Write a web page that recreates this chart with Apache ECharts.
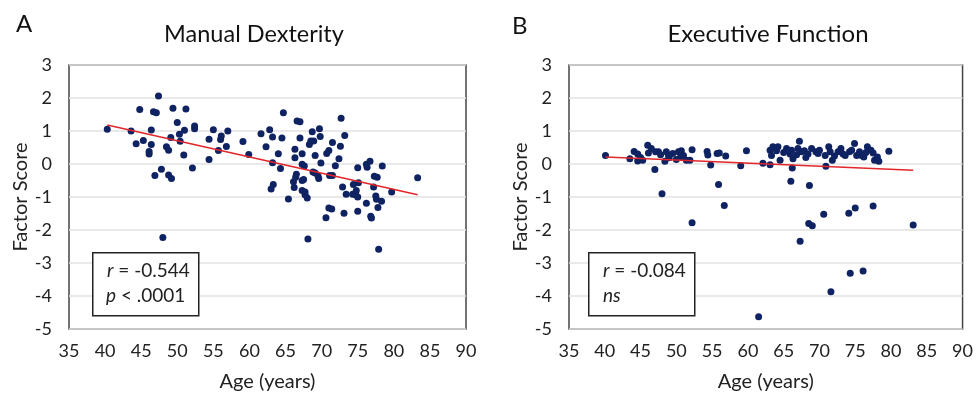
<!DOCTYPE html>
<html><head><meta charset="utf-8">
<script src="https://cdn.jsdelivr.net/npm/echarts@6/dist/echarts.min.js"></script>
<style>html,body{margin:0;padding:0;background:#fff}#c{width:976px;height:399px}</style>
</head><body><div id="c"></div>
<script>
// Panel A: Manual Dexterity (age, factor score)
const dexterityAge = [40.3,43.6,44.3,44.8,45.3,46.4,46.4,46.1,46.1,46.7,47.1,47.4,46.9,47.8,48.8,49.2,48.0,48.5,48.8,49.1,49.4,50.0,50.3,50.4,51.0,51.2,50.9,52.1,52.4,52.4,54.4,54.4,55.0,55.7,56.0,56.1,56.8,57.0,59.1,59.9,61.6,62.3,62.8,63.2,63.2,64.0,63.3,63.0,64.3,64.5,64.7,65.4,66.3,66.3,66.5,66.4,66.1,66.2,66.6,67.0,67.0,67.3,67.3,67.6,67.3,67.5,67.3,67.7,67.7,68.0,68.1,68.3,68.5,68.7,68.9,69.1,68.8,69.1,69.6,69.5,69.7,69.8,69.9,70.7,71.0,71.1,71.5,71.5,71.0,71.4,70.6,71.9,72.4,72.6,72.7,73.2,72.9,73.1,73.4,74.3,74.4,74.7,75.0,75.0,75.0,75.1,74.8,76.2,76.3,76.7,76.2,76.8,76.9,77.2,77.3,77.7,77.5,77.6,77.8,78.3,77.9,78.4,79.7,83.3];
const dexterityScore = [1.05,1.0,0.61,1.65,0.71,1.03,0.59,0.38,0.30,1.58,1.55,2.06,-0.35,-0.16,-0.33,-0.44,-2.23,0.52,0.42,0.80,1.69,1.26,0.90,0.69,1.02,1.67,0.27,-0.12,1.15,1.07,0.75,0.14,1.04,0.41,0.74,0.85,0.53,1.0,0.68,0.29,0.92,0.52,1.04,0.82,0.04,0.31,-0.62,-0.76,-0.14,0.79,1.55,-1.06,0.45,0.19,-0.31,-0.40,-0.54,-0.71,1.30,1.28,0.79,0.31,-0.01,-0.06,-0.50,-0.47,-0.80,-0.85,-0.93,-1.03,-2.27,0.59,0.70,0.98,0.70,0.26,-0.24,-0.27,-0.44,-0.36,1.07,0.83,0.03,0.32,0.41,-0.35,-0.35,0.65,-1.33,-1.36,-1.63,-0.05,0.16,0.54,1.39,0.86,-0.70,-1.49,-0.92,-0.92,-0.62,-0.93,-1.00,-0.11,-1.43,-0.57,-0.80,-0.01,-0.10,0.08,-1.19,-1.58,-1.64,-0.70,-0.37,-0.40,-0.97,-1.07,-1.32,-1.13,-2.58,-0.06,-0.85,-0.42];
const dexterityTrendAge = [40.3, 83.3];
const dexterityTrendScore = [1.18, -0.93];

// Panel B: Executive Function (age, factor score)
const executiveAge = [40.1,43.5,44.1,44.6,45.3,46.0,46.1,46.5,47.0,47.1,47.5,48.4,48.6,48.9,49.0,50.0,50.3,50.7,51.0,51.4,51.9,52.2,54.3,54.4,54.8,55.7,56.0,56.9,55.9,48.0,56.7,52.2,59.0,59.8,61.5,62.1,63.1,63.1,63.3,63.5,64.0,64.5,64.2,65.4,65.9,66.1,66.3,66.2,66.0,67.2,67.0,67.5,67.9,68.4,68.6,68.9,69.5,70.0,70.8,70.9,71.3,71.5,71.8,72.6,73.0,73.6,74.2,74.5,74.9,75.2,75.6,75.9,76.2,76.7,77.2,77.5,77.7,78.1,78.3,79.7,67.3,68.5,69.0,70.6,71.6,74.1,74.3,75.0,76.1,77.5,83.1,44.6,45.0,47.8,49.5,50.6,65.0,66.8,68.1,69.8,72.1,73.3,76.5];
const executiveScore = [0.26,0.16,0.38,0.09,0.11,0.57,0.33,0.47,-0.17,0.37,0.37,0.08,0.37,0.26,0.19,0.14,0.37,0.40,0.26,0.11,0.11,0.43,0.38,0.27,-0.03,0.32,0.33,0.24,-0.62,-0.90,-1.26,-1.78,-0.05,0.40,-4.63,0.02,-0.02,0.42,0.26,0.52,0.40,0.11,0.52,0.47,0.30,0.42,0.16,-0.12,-0.52,0.69,0.47,0.37,0.40,0.30,-0.65,0.47,0.37,0.42,0.26,-0.07,0.52,0.37,0.11,0.37,0.47,0.26,0.37,0.42,0.62,0.26,0.37,0.26,0.21,0.52,0.42,0.33,0.11,0.21,0.08,0.39,-2.34,-1.80,-1.87,-1.52,-3.87,-1.49,-3.31,-1.33,-3.24,-1.27,-1.85,0.30,0.20,0.28,0.32,0.22,0.35,0.28,0.20,0.32,0.24,0.30,0.35];
const executiveTrendAge = [40.1, 83.1];
const executiveTrendScore = [0.21, -0.19];

const xTicks = [35,40,45,50,55,60,65,70,75,80,85,90];
const yTicks = [-5,-4,-3,-2,-1,0,1,2,3];

const FONT = 'Lato';
const zip = (a,b) => a.map((v,i)=>[v,b[i]]);

const chart = echarts.init(document.getElementById('c'), null, {renderer:'canvas'});

function xAxis(gi){
  return {gridIndex:gi, type:'value', min:xTicks[0], max:xTicks[xTicks.length-1], interval:5,
    name:'Age (years)', nameLocation:'middle', nameGap:43,
    nameTextStyle:{fontFamily:FONT, fontSize:20, color:'#222'},
    axisLine:{show:false}, axisTick:{show:false}, splitLine:{show:false},
    axisLabel:{fontFamily:FONT, fontSize:18, color:'#222', margin:13}};
}
function yAxis(gi){
  return {gridIndex:gi, type:'value', min:yTicks[0], max:yTicks[yTicks.length-1], interval:1,
    name:'Factor Score', nameLocation:'middle', nameGap:33,
    nameTextStyle:{fontFamily:FONT, fontSize:20, color:'#222'},
    axisLine:{show:false}, axisTick:{show:false},
    splitLine:{show:true, lineStyle:{color:'#e2e2e2', width:1.5}},
    axisLabel:{fontFamily:FONT, fontSize:18, color:'#222', margin:17}};
}
const dot = {type:'scatter', symbolSize:7, itemStyle:{color:'#0f2362', opacity:1}, silent:true};
const trend = {type:'line', symbol:'none', lineStyle:{color:'#e3262a', width:1.6}, silent:true, z:3};
const txt = (x, y, text) => ({type:'text', left:x, top:y, z:11, style:{
  rich:{i:{fontFamily:FONT, fontStyle:'italic', fontSize:19, fill:'#222'}, n:{fontFamily:FONT, fontSize:19, fill:'#222'}},
  text:text, fontFamily:FONT, fontSize:19, fill:'#222'}});

chart.setOption({
  animation:false,
  title:[
    {text:'A', left:11, top:7, textStyle:{fontFamily:FONT, fontSize:24, fontWeight:'normal', color:'#111'}},
    {text:'Manual Dexterity', left:249, top:17, textAlign:'center', textStyle:{fontFamily:FONT, fontSize:23.5, fontWeight:'normal', color:'#111'}},
    {text:'B', left:507, top:9, textStyle:{fontFamily:FONT, fontSize:24, fontWeight:'normal', color:'#111'}},
    {text:'Executive Function', left:763, top:17, textAlign:'center', textStyle:{fontFamily:FONT, fontSize:24, fontWeight:'normal', color:'#111'}}
  ],
  grid:[
    {left:69, right:510, top:65, bottom:70, show:true, borderColor:'#444', borderWidth:1.5, backgroundColor:'#fff'},
    {left:569, right:10, top:65, bottom:70, show:true, borderColor:'#444', borderWidth:1.5, backgroundColor:'#fff'}
  ],
  xAxis:[xAxis(0), xAxis(1)],
  yAxis:[yAxis(0), yAxis(1)],
  series:[
    Object.assign({}, dot, {xAxisIndex:0, yAxisIndex:0, data:zip(dexterityAge, dexterityScore)}),
    Object.assign({}, trend, {xAxisIndex:0, yAxisIndex:0, data:zip(dexterityTrendAge, dexterityTrendScore)}),
    Object.assign({}, dot, {xAxisIndex:1, yAxisIndex:1, data:zip(executiveAge, executiveScore)}),
    Object.assign({}, trend, {xAxisIndex:1, yAxisIndex:1, data:zip(executiveTrendAge, executiveTrendScore)})
  ],
  graphic:[
    {type:'rect', left:92, top:252, z:10, shape:{width:106,height:63}, style:{fill:'#fff', stroke:'#222', lineWidth:1.5}},
    txt(107, 261, '{i|r}{n| = -0.544}'),
    txt(106, 286, '{i|p}{n| < .0001}'),
    {type:'rect', left:588, top:252, z:10, shape:{width:106,height:63}, style:{fill:'#fff', stroke:'#222', lineWidth:1.5}},
    txt(603, 261, '{i|r}{n| = -0.084}'),
    txt(603, 286, '{i|ns}')
  ]
});
</script></body></html>
